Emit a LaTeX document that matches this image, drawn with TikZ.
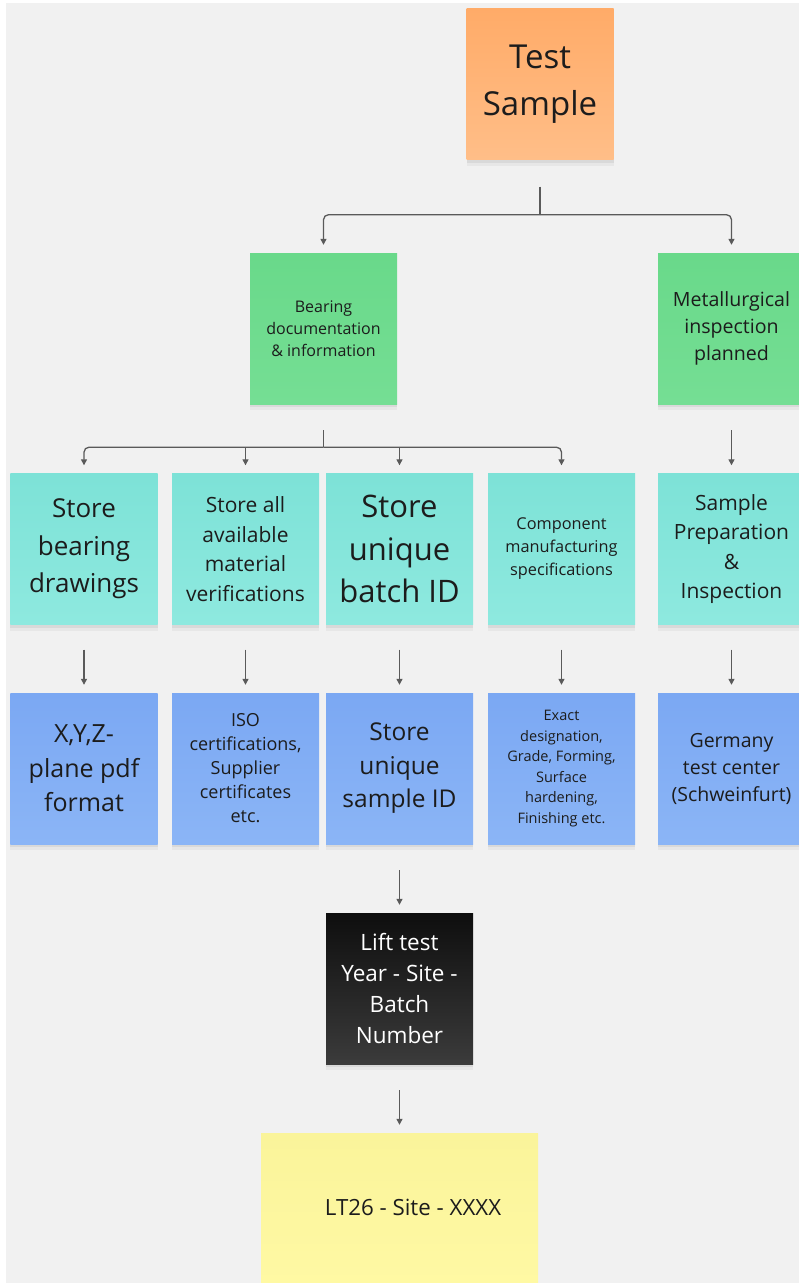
\documentclass[tikz,border=0pt]{standalone}
\usepackage{fontspec}
\setmainfont{Open Sans}
\usetikzlibrary{arrows.meta,shadows,calc}

\definecolor{canvas}{HTML}{F1F1F1}
\definecolor{ink}{HTML}{1C1C1C}
\definecolor{wire}{HTML}{5A5A5A}
\definecolor{orangeT}{HTML}{FFAB68}
\definecolor{orangeB}{HTML}{FFBE88}
\definecolor{greenT}{HTML}{69D98A}
\definecolor{greenB}{HTML}{75DE94}
\definecolor{cyanT}{HTML}{7DE2D7}
\definecolor{cyanB}{HTML}{8EE9DF}
\definecolor{blueT}{HTML}{7BA8F3}
\definecolor{blueB}{HTML}{8BB5F6}
\definecolor{yellowT}{HTML}{FAF49A}
\definecolor{yellowB}{HTML}{FFF9A4}
\definecolor{blackT}{HTML}{0E0E0E}
\definecolor{blackB}{HTML}{3B3B3B}

\newcommand\setfs[2]{\fontsize{#1bp}{#2bp}\selectfont}

\tikzset{
  note/.style={rectangle, minimum width=147bp, minimum height=151bp,
    inner sep=0pt, align=center, text=ink,
    drop shadow={shadow xshift=0bp, shadow yshift=-3bp, opacity=0.06, fill=black},
    drop shadow={shadow xshift=0bp, shadow yshift=-6bp, opacity=0.04, fill=black}},
  orangenote/.style={note, top color=orangeT, bottom color=orangeB},
  greennote/.style={note, top color=greenT, bottom color=greenB},
  cyannote/.style={note, top color=cyanT, bottom color=cyanB},
  bluenote/.style={note, top color=blueT, bottom color=blueB},
  darknote/.style={note, top color=blackT, bottom color=blackB, text=white},
  yellownote/.style={note, top color=yellowT, bottom color=yellowB},
  conn/.style={draw=wire, line width=1.3bp},
  tip/.style={conn, -{Triangle[length=6bp,width=6bp]}},
}

\begin{document}
\begin{tikzpicture}[x=1bp,y=-1bp]
\useasboundingbox (0,0) rectangle (799,1283);
\fill[white] (0,0) rectangle (799,1283);
\fill[canvas] (6,3) rectangle (799,1283);

% top sample
\node[orangenote, font=\setfs{33}{47}] (ts) at (540,84) {Test\\Sample};

% second level
\node[greennote, font=\setfs{16}{22}] (bd) at (323.5,328.5) {Bearing\\documentation\\\& information};
\node[greennote, font=\setfs{19.6}{27}] (mi) at (731.5,328.5) {Metallurgical\\inspection\\planned};

% storage tasks
\node[cyannote, font=\setfs{26}{37.5}] (c1) at (84,549) {Store\\bearing\\drawings};
\node[cyannote, font=\setfs{21}{29.5}] (c2) at (245.5,549) {Store all\\available\\material\\verifications};
\node[cyannote, font=\setfs{31}{42.5}] (c3) at (399.5,549) {Store\\unique\\batch ID};
\node[cyannote, font=\setfs{16.3}{23}] (c4) at (561.5,549) {Component\\manufacturing\\specifications};
\node[cyannote, font=\setfs{21}{29.3}] (c5) at (731.5,549) {Sample\\Preparation\\\&\\Inspection};

% details
\node[bluenote, font=\setfs{25}{34.5}] (b1) at (84,768.5) {X,Y,Z-\\plane pdf\\format};
\node[bluenote, font=\setfs{18}{24}] (b2) at (245.5,768.5) {ISO\\certifications,\\Supplier\\certificates\\etc.};
\node[bluenote, font=\setfs{24.5}{33.5}] (b3) at (399.5,768.5) {Store\\unique\\sample ID};
\node[bluenote, font=\setfs{14.5}{20.5}] (b4) at (561.5,768.5) {Exact\\designation,\\Grade, Forming,\\Surface\\hardening,\\Finishing etc.};
\node[bluenote, font=\setfs{19.5}{27}] (b5) at (731.5,768.5) {Germany\\test center\\(Schweinfurt)};

% naming scheme
\node[darknote, font=\setfs{22.5}{31}] (lt) at (399.5,988.5) {Lift test\\Year - Site -\\Batch\\Number};
\node[yellownote, minimum width=277bp, minimum height=157bp] (yl) at (399.5,1211.5) {};
\node[font=\setfs{22.3}{30}, text=ink, inner sep=0pt] (ylt) at (413,1207) {LT26 - Site - XXXX};

% connectors: sample to second level
\coordinate (s1) at ([yshift=-27bp]ts.south);
\coordinate (h1) at ([yshift=-55bp]ts.south);
\draw[conn] (s1) -- (h1);
\draw[tip, rounded corners=5bp] (h1) -| ([yshift=8bp]bd.north);
\draw[tip, rounded corners=5bp] (h1) -| ([yshift=8bp]mi.north);

% documentation to storage tasks
\coordinate (s2) at ([yshift=-26bp]bd.south);
\coordinate (h2) at ([yshift=-43bp]bd.south);
\draw[conn] (s2) -- (h2);
\draw[tip, rounded corners=5bp] (h2) -| ([yshift=8bp]c1.north);
\draw[tip, rounded corners=5bp] (h2) -| ([yshift=8bp]c4.north);
\draw[tip] (h2 -| c2.north) -- ([yshift=8bp]c2.north);
\draw[tip] (h2 -| c3.north) -- ([yshift=8bp]c3.north);

% inspection branch
\draw[tip] ([yshift=-26bp]mi.south) -- ([yshift=8bp]c5.north);

% tasks to details
\foreach \i in {1,...,5}
  \draw[tip] ([yshift=-25bp]c\i.south) -- ([yshift=8bp]b\i.north);

% sample ID to naming
\draw[tip] ([yshift=-26bp]b3.south) -- ([yshift=8bp]lt.north);
\draw[tip] ([yshift=-26bp]lt.south) -- ([yshift=8bp]yl.north);
\end{tikzpicture}
\end{document}
